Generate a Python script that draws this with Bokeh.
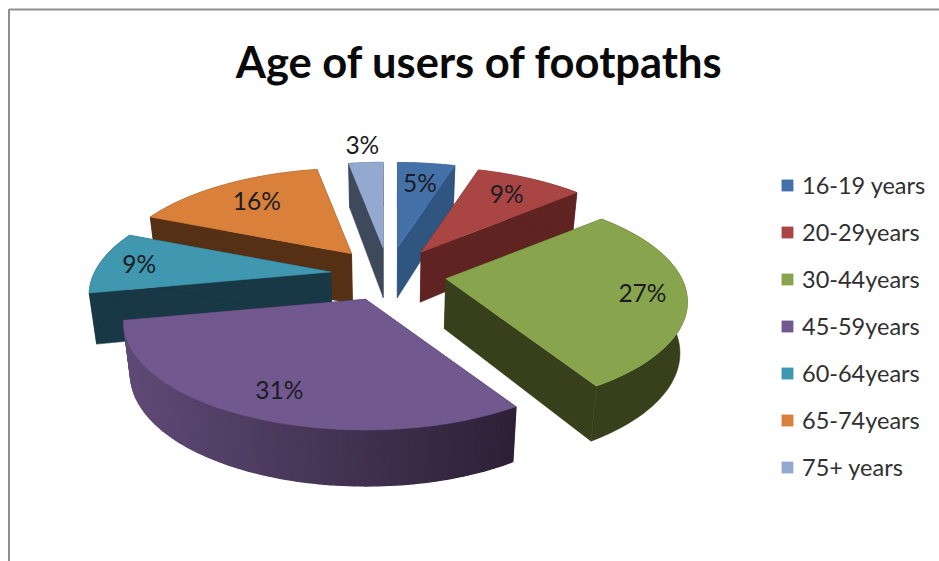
import math

from bokeh.core.properties import value
from bokeh.embed import file_html
from bokeh.models import ColumnDataSource, Legend, LegendItem, Range1d
from bokeh.plotting import figure
from bokeh.resources import INLINE

TITLE = "Age of users of footpaths"
categories = ["16-19 years", "20-29years", "30-44years", "45-59years",
              "60-64years", "65-74years", "75+ years"]
shares = [5, 9, 27, 31, 9, 16, 3]
percent_labels = ["5%", "9%", "27%", "31%", "9%", "16%", "3%"]

top_colors = ["#4471a8", "#a94644", "#88a54e", "#71588f", "#3f97b0", "#d9803a", "#93a9d0"]
side_left = ["#2f5580", "#5f2322", "#373f1b", "#5f4a76", "#193845", "#553014", "#3e4a5c"]
side_right = ["#2f5580", "#5f2322", "#373f1b", "#2d2036", "#193845", "#553014", "#3e4a5c"]

# Pie geometry, in page pixels
CX, CY = 388.0, 274.0
EXPLODE_X, EXPLODE_Y = 58.0, 27.0
RX, RY = 236.0, 108.0
PERSP_X, PERSP_Y = 0.225, 0.21
BOTTOM_SCALE = 0.975
DEPTH, DEPTH_SLOPE = 50.0, 6.0
LABEL_RADIUS = [0.72, 0.75, 0.82, 0.79, 0.83, 0.72, 1.33]
DRAW_ORDER = [5, 4, 6, 0, 1, 2, 3]
FONT = "Lato"


def project(apex, theta, r):
    s, c = math.sin(theta), math.cos(theta)
    return (apex[0] + RX * r * s * (1 - PERSP_X * r * c),
            apex[1] - RY * r * c * (1 - PERSP_Y * r * c))


def lower(pt, theta, r):
    # Point under pt on the underside of the tilted pie
    depth = DEPTH - DEPTH_SLOPE * r * math.cos(theta)
    return (CX + (pt[0] - CX) * BOTTOM_SCALE, pt[1] + depth)


def mix(a, b, t):
    ca = [int(a[i:i + 2], 16) for i in (1, 3, 5)]
    cb = [int(b[i:i + 2], 16) for i in (1, 3, 5)]
    return "#%02x%02x%02x" % tuple(round(x + (y - x) * t) for x, y in zip(ca, cb))


p = figure(width=939, height=561, output_backend="svg", toolbar_location=None,
           x_range=Range1d(0, 939), y_range=Range1d(561, 0),
           min_border=0, outline_line_color=None, background_fill_color="white")
p.axis.visible = False
p.grid.visible = False

# Chart area frame: only its top and left edges fall on the page
p.line([939, 8.5, 8.5], [9, 9, 561], line_color="#8f8f8f", line_width=2)

total = sum(shares)
starts, running = [], 0
for share in shares:
    starts.append(running)
    running += share

legend_refs = {}
label_x, label_y = [0.0] * len(shares), [0.0] * len(shares)
for i in DRAW_ORDER:
    a0 = 2 * math.pi * starts[i] / total
    a1 = 2 * math.pi * (starts[i] + shares[i]) / total
    mid = (a0 + a1) / 2
    apex = (CX + EXPLODE_X * math.sin(mid), CY - EXPLODE_Y * math.cos(mid))
    steps = max(8, shares[i] * 3)
    thetas = [a0 + (a1 - a0) * k / steps for k in range(steps + 1)]
    rim = [project(apex, t, 1.0) for t in thetas]
    rim_low = [lower(q, t, 1.0) for q, t in zip(rim, thetas)]
    apex_low = lower(apex, 0.0, 0.0)

    # Cut faces of the slice, in the shade of the nearer wall end
    p.patches([[apex[0], rim[0][0], rim_low[0][0], apex_low[0]],
               [apex[0], rim[-1][0], rim_low[-1][0], apex_low[0]]],
              [[apex[1], rim[0][1], rim_low[0][1], apex_low[1]],
               [apex[1], rim[-1][1], rim_low[-1][1], apex_low[1]]],
              fill_color=side_right[i], line_color=side_right[i], line_width=0.5)

    # Outer wall: solid where the slice has one shade, strips where it is graded
    if side_left[i] == side_right[i]:
        p.patches([[q[0] for q in rim] + [q[0] for q in reversed(rim_low)]],
                  [[q[1] for q in rim] + [q[1] for q in reversed(rim_low)]],
                  fill_color=side_left[i], line_color=side_left[i], line_width=0.5)
    else:
        xmin, xmax = min(q[0] for q in rim), max(q[0] for q in rim)
        fx, fy, fc = [], [], []
        for k in range(steps):
            fx.append([rim[k][0], rim[k + 1][0], rim_low[k + 1][0], rim_low[k][0]])
            fy.append([rim[k][1], rim[k + 1][1], rim_low[k + 1][1], rim_low[k][1]])
            frac = ((rim[k][0] + rim[k + 1][0]) / 2 - xmin) / (xmax - xmin)
            fc.append(mix(side_left[i], side_right[i], frac))
        p.patches("x", "y", source=ColumnDataSource(dict(x=fx, y=fy, c=fc)),
                  fill_color="c", line_color="c", line_width=1.4)

    legend_refs[i] = p.patches([[apex[0]] + [q[0] for q in rim]],
                               [[apex[1]] + [q[1] for q in rim]],
                               fill_color=top_colors[i], line_color=top_colors[i],
                               line_width=0.6)
    label_x[i], label_y[i] = project(apex, mid, LABEL_RADIUS[i])

p.text(label_x, label_y, text=percent_labels, text_font=value(FONT),
       text_font_size="24.5px", text_color="#1c1c24", text_align="center",
       text_baseline="middle")

p.text([479], [60], text=[TITLE], text_font=value(FONT), text_font_style="bold",
       text_font_size="43.5px", text_color="#0a0a0a", text_align="center",
       text_baseline="middle")

legend = Legend(
    items=[LegendItem(label=categories[i], renderers=[legend_refs[i]])
           for i in range(len(categories))],
    location=(780, 80), orientation="vertical",
    background_fill_alpha=0, border_line_alpha=0, margin=0, padding=0,
    glyph_width=14, glyph_height=14, label_standoff=8, spacing=19,
    label_text_font=FONT, label_text_font_size="23.5px", label_text_color="#303030",
)
p.add_layout(legend)

open("out.html", "w").write(file_html(p, INLINE))
